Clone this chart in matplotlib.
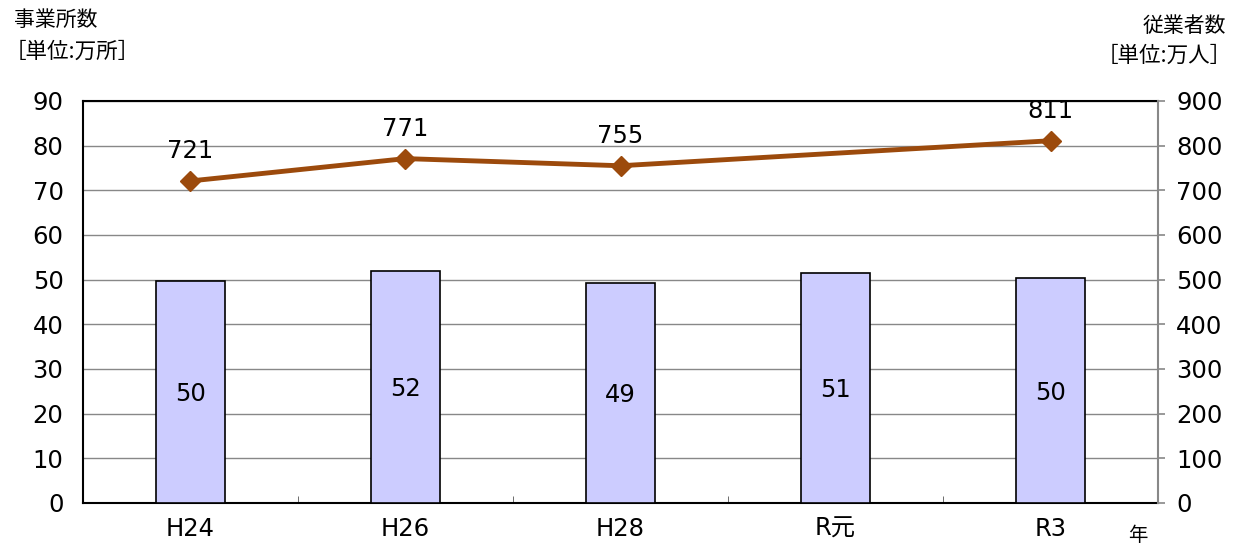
import numpy as np
import matplotlib.pyplot as plt
from matplotlib.ticker import FixedLocator

plt.rcParams['font.family'] = ['DejaVu Sans', 'Noto Sans CJK JP']

# data
years = ["H24", "H26", "H28", "R元", "R3"]
offices = [49.7, 51.9, 49.3, 51.4, 50.4]          # 事業所数 [万所]
workers = [721, 771, 755, np.nan, 811]            # 従業者数 [万人]

bar_color = "#CCCCFF"
line_color = "#9C4A0C"
fs = 17.5
cjk = ['Noto Sans CJK JP', 'DejaVu Sans']

fig = plt.figure(figsize=(12.42, 5.45), dpi=100)
ax = fig.add_axes([0.0668, 0.0771, 0.8656, 0.7376])
ax2 = ax.twinx()

x = np.arange(len(years))
ax.bar(x, offices, width=0.32, color=bar_color, edgecolor="black", linewidth=1.2, zorder=3)
for xi, v in zip(x, offices):
    ax.text(xi, v / 2 - 0.5, f"{v:.0f}", ha="center", va="center", fontsize=fs, zorder=4)

ax.set_ylim(0, 90)
ax.set_yticks(np.arange(0, 91, 10))
ax.set_xlim(-0.5, len(years) - 0.5)
ax.set_xticks(x)
ax.set_xticklabels(years, fontsize=fs)
ax.tick_params(axis="x", which="major", length=0, pad=10)
ax.xaxis.set_minor_locator(FixedLocator(np.arange(0.5, len(years) - 0.5, 1)))
ax.tick_params(axis="x", which="minor", direction="in", length=5, color="#555555")
ax.tick_params(axis="y", length=0, labelsize=fs, pad=14)
ax.grid(axis="y", color="#888888", linewidth=1.0, zorder=0)
ax.set_axisbelow(True)
for s in ["left", "top", "bottom"]:
    ax.spines[s].set_linewidth(1.5)
ax.spines["right"].set_visible(False)

# line series on right axis, skipping the missing year
mask = ~np.isnan(workers)
ax2.plot(x[mask], np.array(workers)[mask], color=line_color, linewidth=3.5,
         marker="D", markersize=10, zorder=5)
for xi, w in zip(x[mask], np.array(workers)[mask]):
    ax2.annotate(f"{w:.0f}", (xi, w), xytext=(0, 13), textcoords="offset points",
                 ha="center", va="bottom", fontsize=fs)
ax2.set_ylim(0, 900)
ax2.set_yticks(np.arange(0, 901, 100))
ax2.tick_params(axis="y", length=5, color="#888888", labelsize=fs, pad=8, width=1.2)
ax2.spines["right"].set_color("#888888")
ax2.spines["right"].set_linewidth(1.5)
for s in ["left", "top", "bottom"]:
    ax2.spines[s].set_visible(False)

fig.text(0.011, 0.963, "事業所数", fontsize=15, ha="left", va="center", family=cjk)
fig.text(0.004, 0.905, "［単位:万所］", fontsize=15.5, ha="left", va="center", family=cjk)
fig.text(0.987, 0.952, "従業者数", fontsize=15, ha="right", va="center", family=cjk)
fig.text(0.992, 0.897, "［単位:万人］", fontsize=15.5, ha="right", va="center", family=cjk)
fig.text(0.916, 0.018, "年", fontsize=14, ha="center", va="center", family=cjk)

fig.savefig("out.png", dpi=100)
